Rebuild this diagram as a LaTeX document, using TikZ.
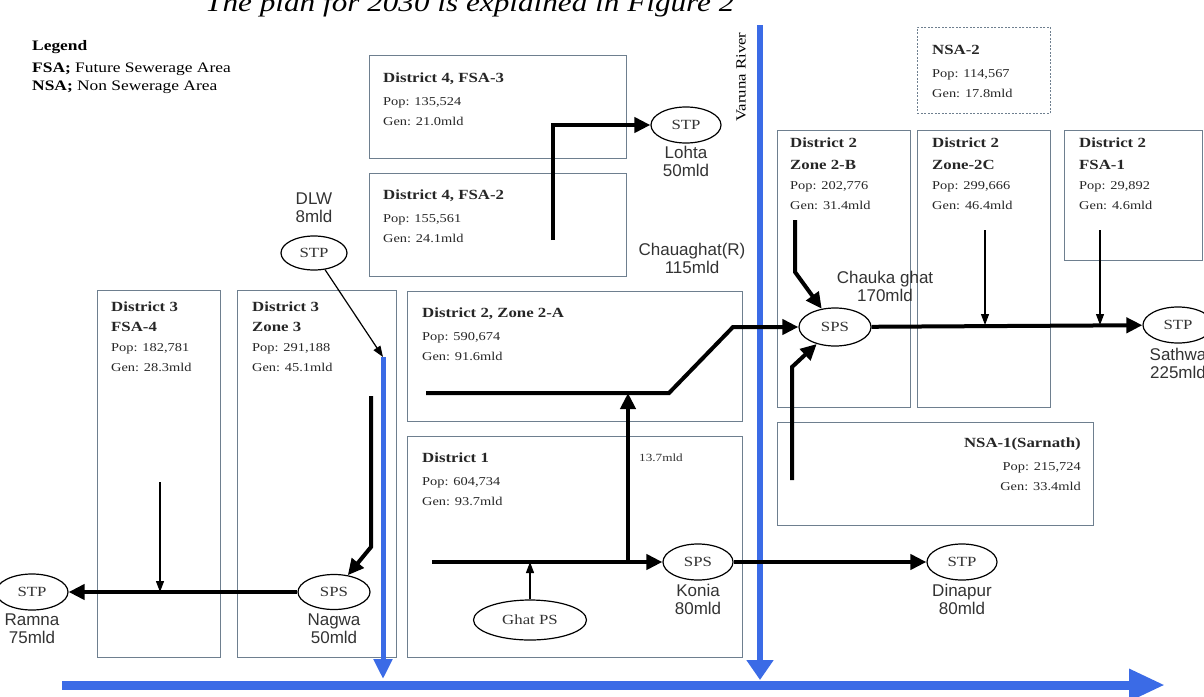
\documentclass[tikz,border=0pt]{standalone}
\usepackage{fontspec}
\setmainfont{Liberation Serif}[FakeStretch=1.2]
\newfontfamily\stationfont{Liberation Sans}
\usepackage{tikz}
\usetikzlibrary{arrows.meta,positioning,shapes.geometric,calc}
\definecolor{riverblue}{HTML}{3B6BE6}
\definecolor{areagrey}{HTML}{6E7F8F}
\newcommand{\areatitle}[1]{{\fontsize{14}{20}\selectfont\bfseries #1}}

\begin{document}
\begin{tikzpicture}[x=1pt, y=-1pt,
    area/.style={rectangle, draw=areagrey, line width=0.9pt, anchor=north west, inner sep=0pt},
    areatext/.style={align=left, inner sep=0pt, text=black!85, font=\fontsize{12}{20}\selectfont},
    plant/.style={ellipse, draw, line width=1.2pt, fill=white, minimum width=70pt, minimum height=36pt, inner sep=0pt, text=black!80, font=\fontsize{14}{16}\selectfont},
    station/.style={align=center, inner sep=0pt, text=black!80, font=\stationfont\fontsize{17}{18}\selectfont},
    flow/.style={-{Triangle[length=16pt,width=15pt]}, line width=4pt},
    drain/.style={-{Triangle[length=11pt,width=8pt]}, line width=1.2pt},
    river/.style={riverblue, line width=6pt}
]
    \useasboundingbox (0,0) rectangle (1204,696);

    % Caption and legend
    \node[anchor=base west, inner sep=0pt, font=\fontsize{26}{28}\selectfont\itshape] (caption) at (205,12) {The plan for 2030 is explained in Figure 2};
    \node[anchor=north west, align=left, inner sep=0pt, font=\fontsize{14.5}{18}\selectfont] (legend) at (32,40) {\textbf{Legend}\\[4pt] \textbf{FSA;} Future Sewerage Area\\ \textbf{NSA;} Non Sewerage Area};

    % Areas
    \node[area, minimum width=257pt, minimum height=103pt] (d4f3) at (369,55) {};
    \node[area, minimum width=257pt, minimum height=103pt] (d4f2) at (369,173) {};
    \node[area, minimum width=123pt, minimum height=367pt] (d3f4) at (97,290) {};
    \node[area, minimum width=159pt, minimum height=367pt] (d3z3) at (237,290) {};
    \node[area, minimum width=335pt, minimum height=130pt] (d2z2a) at (407,291) {};
    \node[area, minimum width=335pt, minimum height=221pt] (dist1) at (407,436) {};
    \node[area, dash pattern=on 2pt off 1.5pt, minimum width=133pt, minimum height=86pt] (nsa2) at (917,27) {};
    \node[area, minimum width=133pt, minimum height=277pt] (d2z2b) at (777,130) {};
    \node[area, minimum width=133pt, minimum height=277pt] (d2z2c) at (917,130) {};
    \node[area, minimum width=138pt, minimum height=130pt] (d2f1) at (1064,130) {};
    \node[area, minimum width=316pt, minimum height=103pt] (nsa1) at (777,422) {};

    % Area texts
    \node[areatext, below right=18pt and 14pt of d4f3.north west] (d4f3-txt) {\areatitle{District 4, FSA-3}\\[3pt] Pop: 135,524\\ Gen: 21.0mld};
    \node[areatext, below right=17pt and 14pt of d4f2.north west] (d4f2-txt) {\areatitle{District 4, FSA-2}\\[3pt] Pop: 155,561\\ Gen: 24.1mld};
    \node[areatext, below right=12pt and 14pt of d3f4.north west] (d3f4-txt) {\areatitle{District 3}\\ \areatitle{FSA-4}\\ Pop: 182,781\\ Gen: 28.3mld};
    \node[areatext, below right=12pt and 15pt of d3z3.north west] (d3z3-txt) {\areatitle{District 3}\\ \areatitle{Zone 3}\\ Pop: 291,188\\ Gen: 45.1mld};
    \node[areatext, below right=17pt and 15pt of d2z2a.north west] (d2z2a-txt) {\areatitle{District 2, Zone 2-A}\\[3pt] Pop: 590,674\\ Gen: 91.6mld};
    \node[areatext, below right=17pt and 15pt of dist1.north west] (dist1-txt) {\areatitle{District 1}\\[3pt] Pop: 604,734\\ Gen: 93.7mld};
    \node[areatext, below right=18pt and 15pt of nsa2.north west] (nsa2-txt) {\areatitle{NSA-2}\\[3pt] Pop: 114,567\\ Gen: 17.8mld};
    \node[areatext, below right=8pt and 13pt of d2z2b.north west] (d2z2b-txt) {\areatitle{District 2}\\[2pt] \areatitle{Zone 2-B}\\ Pop: 202,776\\ Gen: 31.4mld};
    \node[areatext, below right=8pt and 15pt of d2z2c.north west] (d2z2c-txt) {\areatitle{District 2}\\[2pt] \areatitle{Zone-2C}\\ Pop: 299,666\\ Gen: 46.4mld};
    \node[areatext, below right=8pt and 15pt of d2f1.north west] (d2f1-txt) {\areatitle{District 2}\\[2pt] \areatitle{FSA-1}\\ Pop: 29,892\\ Gen: 4.6mld};
    \node[areatext, align=right, below left=16pt and 13pt of nsa1.north east] (nsa1-txt) {\areatitle{NSA-1(Sarnath)}\\[3pt] Pop: 215,724\\ Gen: 33.4mld};

    % Rivers
    \coordinate (varuna-src) at (760,25);
    \coordinate (varuna-end) at (760,680);
    \coordinate (z3-src) at (383,357);
    \coordinate (z3-end) at (383,679);
    \coordinate (ganga-src) at (62,685);
    \coordinate (ganga-end) at (1165,685);
    \draw[river, -{Triangle[length=20pt,width=26pt]}] (varuna-src) -- (varuna-end);
    \draw[river, line width=5pt, -{Triangle[length=20pt,width=18pt]}] (z3-src) -- (z3-end);
    \draw[river, line width=9pt, -{Triangle[length=36pt,width=30pt]}] (ganga-src) -- (ganga-end);
    \node[rotate=90, inner sep=0pt, font=\fontsize{14}{16}\selectfont] (varuna-lbl) at (741,77) {Varuna River};

    % Treatment and pumping stations
    \node[plant] (lohta) at (686,125) {STP};
    \node[station, below=2pt of lohta] (lohta-lbl) {Lohta\\50mld};
    \node[plant, minimum width=66pt, minimum height=34pt] (dlw) at (314,253) {STP};
    \node[station, above=13pt of dlw] (dlw-lbl) {DLW\\8mld};
    \node[plant, minimum width=72pt, minimum height=35pt] (nagwa) at (334,592) {SPS};
    \node[station, below=3pt of nagwa] (nagwa-lbl) {Nagwa\\50mld};
    \node[plant, minimum width=72pt] (ramna) at (32,592) {STP};
    \node[station, below=3pt of ramna] (ramna-lbl) {Ramna\\75mld};
    \node[plant, minimum width=113pt, minimum height=40pt] (ghat) at (530,620) {Ghat PS};
    \node[plant] (konia) at (698,562) {SPS};
    \node[station, below=3pt of konia] (konia-lbl) {Konia\\80mld};
    \node[plant] (dinapur) at (962,562) {STP};
    \node[station, below=3pt of dinapur] (dinapur-lbl) {Dinapur\\80mld};
    \node[plant, minimum width=72pt, minimum height=38pt] (chauka) at (835,327) {SPS};
    \node[station] (chauka-lbl) at (885,286) {Chauka ghat\\170mld};
    \node[plant] (sathwa) at (1178,325) {STP};
    \node[station, below=4pt of sathwa] (sathwa-lbl) {Sathwa\\225mld};
    \node[station] (chauaghat) at (692,258) {Chauaghat(R)\\115mld};
    \node[inner sep=0pt, anchor=west, text=black!80, font=\fontsize{11}{13}\selectfont] (branch-lbl) at (639,458) {13.7mld};

    % Sewer lines
    \coordinate (d4-in) at (553,240);
    \coordinate (z3-in) at (371,396);
    \coordinate (f4-in) at (160,482);
    \coordinate (z2a-in) at (426,393);
    \coordinate (d1-in) at (432,562);
    \coordinate (d1-branch) at (628,562);
    \coordinate (z2a-join) at (628,393);
    \coordinate (z2b-in) at (795,220);
    \coordinate (nsa1-in) at (792,480);
    \coordinate (z2c-in) at (985,230);
    \coordinate (f1-in) at (1100,230);

    \draw[flow] (d4-in) |- (lohta);
    \draw[drain] (dlw) -- (z3-src);
    \draw[flow] (z3-in) -- (371,547) -- (nagwa);
    \draw[flow] (nagwa) -- (ramna);
    \draw[drain] (f4-in) -- (f4-in |- ramna);
    \draw[flow] (z2a-in) -- (669,393) -- (733,327) -- (chauka);
    \draw[flow] (d1-in) -- (konia);
    \draw[flow] (d1-branch) -- (z2a-join);
    \draw[drain] (ghat) -- (ghat |- d1-in);
    \draw[flow] (konia) -- (dinapur);
    \draw[flow] (z2b-in) -- (795,272) -- (chauka);
    \draw[flow] (nsa1-in) -- (792,367) -- (chauka);
    \draw[drain] (z2c-in) -- (z2c-in |- sathwa);
    \draw[drain] (f1-in) -- (f1-in |- sathwa);
    \draw[flow] (chauka) -- (sathwa);
\end{tikzpicture}
\end{document}
